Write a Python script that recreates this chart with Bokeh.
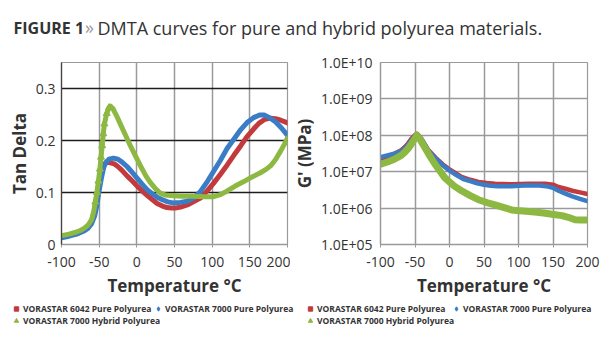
from bokeh.plotting import figure
from bokeh.models import Legend, LegendItem, Label, FixedTicker, Range1d
from bokeh.layouts import column, row
from bokeh.embed import file_html
from bokeh.resources import INLINE

# ---------------- data ----------------
series_names = ["VORASTAR 6042 Pure Polyurea", "VORASTAR 7000 Pure Polyurea", "VORASTAR 7000 Hybrid Polyurea"]

x_ticks = [-100, -50, 0, 50, 100, 150, 200]
x_tick_labels = ["-100", "-50", "0", "50", "100", "150", "200"]

# Tan Delta vs temperature
td_red_t = [-100, -90, -80, -70, -65, -60, -57, -55, -52.5, -50.5, -48, -46, -43, -39, -35, -30, -26, -20, -13, -6,
            0, 7, 14, 20, 27, 34, 40, 46, 51, 58, 67, 75, 85, 94, 102, 111, 120, 129, 138, 146, 155, 162, 169, 177,
            184, 191, 200]
td_red = [0.015, 0.018, 0.022, 0.028, 0.034, 0.045, 0.058, 0.078, 0.100, 0.116, 0.135, 0.148, 0.155, 0.158, 0.157,
          0.155, 0.151, 0.143, 0.132, 0.122, 0.113, 0.103, 0.094, 0.087, 0.079, 0.074, 0.071, 0.070, 0.070, 0.072,
          0.076, 0.082, 0.090, 0.104, 0.118, 0.135, 0.153, 0.172, 0.190, 0.207, 0.222, 0.233, 0.240, 0.243, 0.242,
          0.239, 0.234]

td_blue_t = [-100, -90, -80, -70, -65, -60, -56, -53, -51, -49, -47, -44, -41, -37, -31, -25, -20, -13, -7, 0, 7, 14,
             20, 27, 34, 41, 48, 58, 67, 76, 85, 94, 102, 111, 120, 129, 138, 146, 155, 163, 169, 176, 184, 192, 200]
td_blue = [0.013, 0.016, 0.020, 0.026, 0.031, 0.040, 0.055, 0.075, 0.095, 0.112, 0.128, 0.148, 0.158, 0.164, 0.166,
           0.164, 0.159, 0.150, 0.140, 0.128, 0.116, 0.105, 0.098, 0.091, 0.086, 0.082, 0.080, 0.081, 0.083, 0.090,
           0.103, 0.122, 0.141, 0.162, 0.185, 0.203, 0.221, 0.234, 0.244, 0.249, 0.249, 0.244, 0.236, 0.224, 0.210]

td_green_t = [-100, -90, -80, -75, -70, -65, -60, -57, -55, -53, -51, -49, -47.5, -46, -44.5, -43, -40, -37, -35, -32,
              -27, -22, -15, -8, 0, 6, 12, 18, 25, 31, 38, 45, 60, 75, 90, 102, 111, 120, 130, 142, 153, 164, 172, 178,
              184, 191, 196, 200]
td_green = [0.017, 0.020, 0.024, 0.027, 0.031, 0.037, 0.048, 0.065, 0.082, 0.100, 0.122, 0.145, 0.168, 0.190, 0.213,
            0.232, 0.252, 0.263, 0.266, 0.262, 0.248, 0.232, 0.210, 0.188, 0.165, 0.148, 0.132, 0.119, 0.107, 0.099,
            0.095, 0.094, 0.093, 0.093, 0.092, 0.092, 0.096, 0.103, 0.112, 0.121, 0.130, 0.138, 0.145, 0.152, 0.163,
            0.180, 0.193, 0.205]

td_ticks = [0, 0.1, 0.2, 0.3]
td_tick_labels = ["0", "0.1", "0.2", "0.3"]

# G' (MPa) vs temperature
g_red_t = [-100, -90, -80, -70, -65, -60, -55, -50, -47, -44, -40, -35, -31, -20, -10, 0, 10, 17.5, 30, 42, 54, 66,
           78, 90, 102, 114, 126, 139, 150, 158, 168, 178, 189, 200]
g_red = [2.2e7, 2.6e7, 3.1e7, 3.9e7, 4.7e7, 6.0e7, 8.1e7, 1.02e8, 1.1e8, 9.6e7, 7.6e7, 5.3e7, 4.0e7, 2.4e7, 1.6e7,
         1.15e7, 8.8e6, 7.2e6, 6.0e6, 5.2e6, 4.9e6, 4.7e6, 4.6e6, 4.5e6, 4.6e6, 4.7e6, 4.7e6, 4.7e6, 4.4e6, 3.8e6,
         3.4e6, 3.0e6, 2.7e6, 2.45e6]

g_blue_t = [-100, -90, -80, -70, -65, -60, -55, -50, -47, -44, -40, -35, -31, -20, -10, 0, 10, 20, 30, 40, 50, 60, 70,
            80, 90, 100, 110, 120, 130, 140, 150, 158, 168, 178, 189, 200]
g_blue = [2.5e7, 2.8e7, 3.1e7, 3.7e7, 4.3e7, 5.5e7, 7.4e7, 9.5e7, 1.07e8, 9.5e7, 7.6e7, 5.3e7, 3.8e7, 2.3e7, 1.5e7,
          1.07e7, 8.1e6, 6.3e6, 5.5e6, 4.8e6, 4.4e6, 4.1e6, 4.0e6, 4.0e6, 4.0e6, 4.1e6, 4.2e6, 4.2e6, 4.2e6, 4.0e6,
          3.6e6, 3.0e6, 2.5e6, 2.1e6, 1.8e6, 1.55e6]

g_green_t = [-100, -90, -80, -70, -65, -60, -55, -50, -47, -43, -40, -36, -30, -21, -14, -7, 0, 8, 17.5, 30, 42, 54,
             66, 78, 90, 102, 115, 127, 139, 151, 163, 172, 182, 190, 200]
g_green = [1.6e7, 1.85e7, 2.2e7, 2.8e7, 3.4e7, 4.3e7, 5.9e7, 8.2e7, 1.0e8, 8.0e7, 6.3e7, 4.7e7, 3.0e7, 1.6e7, 1.05e7,
           6.9e6, 5.2e6, 3.9e6, 3.0e6, 2.2e6, 1.7e6, 1.42e6, 1.23e6, 1.05e6, 8.9e5, 8.4e5, 8.1e5, 7.7e5, 7.2e5, 6.7e5,
           6.2e5, 5.6e5, 4.8e5, 4.7e5, 4.7e5]

g_ticks = [100000, 1000000, 10000000, 100000000, 1000000000, 10000000000]
g_tick_labels = ["1.0E+05", "1.0E+06", "1.0E+07", "1.0E+08", "1.0E+09", "1.0E+10"]

title_bold = "FIGURE 1"
title_sep = "\u00bb"
title_text = "DMTA curves for pure and hybrid polyurea materials."
x_title = "Temperature \u00b0C"
y_title_left = "Tan Delta"
y_title_right = "G' (MPa)"

# ---------------- style ----------------
FONT = "Open Sans"
RED = "#C23A3C"
BLUE = "#3A7CC6"
GREEN = "#8DB841"
TXT = "#333333"
GRID = "#9a9a9a"


def style_axes(p):
    p.xaxis.ticker = FixedTicker(ticks=x_ticks)
    p.xaxis.major_label_overrides = dict(zip(x_ticks, x_tick_labels))
    for ax in (p.xaxis[0], p.yaxis[0]):
        ax.major_label_text_font = FONT
        ax.major_label_text_font_size = "14px"
        ax.major_label_text_color = TXT
        ax.axis_label_text_font = FONT
        ax.axis_label_text_font_style = "bold"
        ax.axis_label_text_font_size = "17px"
        ax.axis_label_text_color = TXT
        ax.minor_tick_line_color = None
        ax.major_tick_in = 0
    p.xaxis.major_tick_out = 3
    p.xaxis.major_tick_line_color = GRID
    p.yaxis.major_tick_out = 0
    p.xaxis.major_label_standoff = 9
    p.xaxis.axis_label = x_title
    p.xaxis.axis_label_standoff = 4
    p.xgrid.grid_line_color = GRID
    p.xgrid.grid_line_width = 1.5
    p.outline_line_color = GRID
    p.outline_line_width = 1.2


# ---------------- left: Tan Delta ----------------
p1 = figure(width=290, height=255, x_range=Range1d(-100, 200), y_range=Range1d(0, 0.35),
            output_backend="svg", toolbar_location=None,
            min_border_left=61, min_border_right=3, min_border_top=17, min_border_bottom=54)
style_axes(p1)
p1.yaxis.ticker = FixedTicker(ticks=td_ticks)
p1.yaxis.major_label_overrides = dict(zip(td_ticks, td_tick_labels))
p1.yaxis.axis_label = y_title_left
p1.yaxis.major_label_standoff = 6
p1.yaxis.axis_label_standoff = 2
p1.yaxis.axis_line_color = "#444444"
p1.yaxis.axis_line_width = 1.3
p1.xaxis.axis_line_color = GRID
p1.xaxis.axis_line_width = 1.3
p1.ygrid.grid_line_color = "#1e1e1e"
p1.ygrid.grid_line_width = 1.5

p1.line(td_red_t, td_red, color=RED, line_width=5, line_join="round", line_cap="round")
p1.line(td_blue_t, td_blue, color=BLUE, line_width=5, line_join="round", line_cap="round")
p1.line(td_green_t, td_green, color=GREEN, line_width=5, line_join="round", line_cap="round")
p1.scatter(td_green_t[8:18], td_green[8:18], marker="triangle", color=GREEN, size=7)

# ---------------- right: G' ----------------
p2 = figure(width=325, height=255, x_range=Range1d(-100, 200), y_range=Range1d(1e5, 1e10), y_axis_type="log",
            output_backend="svg", toolbar_location=None,
            min_border_left=90, min_border_right=28, min_border_top=17, min_border_bottom=56)
style_axes(p2)
p2.yaxis.ticker = FixedTicker(ticks=g_ticks)
p2.yaxis.major_label_overrides = dict(zip(g_ticks, g_tick_labels))
p2.yaxis.axis_label = y_title_right
p2.yaxis.major_label_standoff = 8
p2.yaxis.axis_label_standoff = 2
p2.axis.axis_line_color = GRID
p2.axis.axis_line_width = 1.3
p2.ygrid.grid_line_color = GRID
p2.ygrid.grid_line_width = 1.5

p2.line(g_red_t, g_red, color=RED, line_width=4.5, line_join="round", line_cap="round")
p2.line(g_blue_t, g_blue, color=BLUE, line_width=4.5, line_join="round", line_cap="round")
p2.line(g_green_t, g_green, color=GREEN, line_width=7, line_join="round", line_cap="round")

# ---------------- legends (one strip across both panels) ----------------
# the series are drawn here only so that each legend entry has its marker glyph;
# the ranges keep them out of view
lf = figure(width=615, height=50, x_axis_location=None, y_axis_location=None, toolbar_location=None,
            output_backend="svg", min_border=0, outline_line_color=None,
            x_range=Range1d(1000, 1001), y_range=Range1d(1000, 1001))
lf.grid.visible = False
legend_series = [
    ("square", RED, td_red_t, td_red, (10, 36)),
    ("diamond", BLUE, td_blue_t, td_blue, (152, 36)),
    ("triangle", GREEN, td_green_t, td_green, (10, 24)),
    ("square", RED, g_red_t, g_red, (304, 36)),
    ("diamond", BLUE, g_blue_t, g_blue, (450, 36)),
    ("triangle", GREEN, g_green_t, g_green, (304, 24)),
]
for k, (marker, color, xs, ys, loc) in enumerate(legend_series):
    r = lf.scatter(x=xs, y=ys, marker=marker, color=color, size=5)
    lg = Legend(items=[LegendItem(label=series_names[k % 3], renderers=[r])], location=loc,
                orientation="horizontal", glyph_width=12, glyph_height=11, label_height=11, label_standoff=1,
                padding=0, margin=0, spacing=0, border_line_color=None, background_fill_alpha=0,
                label_text_font=FONT, label_text_font_style="bold", label_text_font_size="8.5px",
                label_text_color=TXT)
    lf.add_layout(lg, "center")

# ---------------- title ----------------
t = figure(width=615, height=45, x_axis_location=None, y_axis_location=None, toolbar_location=None,
           output_backend="svg", min_border=0, outline_line_color=None,
           x_range=Range1d(0, 1), y_range=Range1d(0, 1))
t.grid.visible = False
t.add_layout(Label(x=13, y=18, x_units="screen", y_units="screen", text=title_bold, text_font=FONT,
                   text_font_style="bold", text_font_size="16px", text_color=TXT, text_baseline="middle"))
t.add_layout(Label(x=84.5, y=19, x_units="screen", y_units="screen", text=title_sep, text_font=FONT,
                   text_font_size="18px", text_color="#9a9a9a", text_baseline="middle"))
t.add_layout(Label(x=97, y=18, x_units="screen", y_units="screen", text=title_text, text_font=FONT,
                   text_font_size="18px", text_color=TXT, text_baseline="middle"))

layout = column(t, row(p1, p2, spacing=0), lf, spacing=0)
open("out.html", "w").write(file_html(layout, INLINE))
